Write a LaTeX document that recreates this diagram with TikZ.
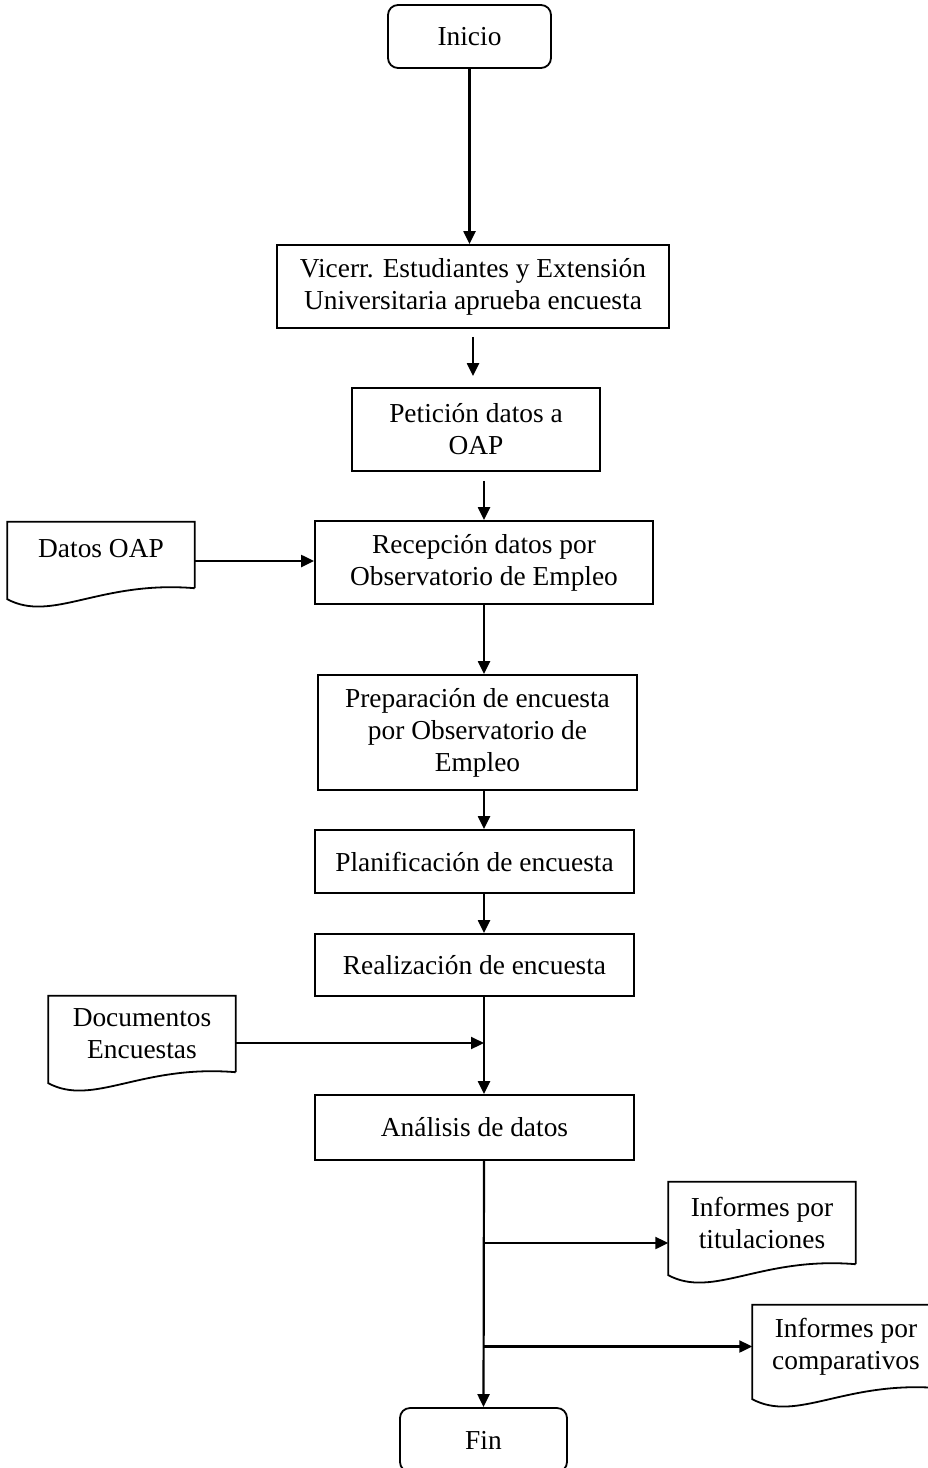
\documentclass[tikz,border=0pt]{standalone}
\usepackage{fontspec}
\setmainfont{Liberation Serif}
\usetikzlibrary{arrows.meta, positioning, calc}

\begin{document}
\begin{tikzpicture}[x=1pt, y=-1pt,
    txt/.style={font=\fontsize{27.4}{32}\selectfont, align=center, inner sep=0pt},
    proc/.style={txt, draw, line width=1.8pt},
    term/.style={proc, rounded corners=10pt},
    doc/.style={txt, minimum width=187, minimum height=82},
    flow/.style={line width=2.2pt, -{Triangle[length=13pt, width=12pt]}}]
\useasboundingbox (0,0) rectangle (928,1468);

% Main flow
\node[term, minimum width=163, minimum height=63] (inicio) at (469.5,36.5) {Inicio};
\node[proc, minimum width=392, minimum height=83] (aprueba) at (473,286.5)
    {Vicerr. Estudiantes y Extensión\\Universitaria aprueba encuesta};
\node[proc, minimum width=248, minimum height=83] (peticion) at (476,429.5)
    {Petición datos a\\OAP};
\node[proc, minimum width=338, minimum height=83] (recepcion) at (484,562.5)
    {Recepción datos por\\Observatorio de Empleo};
\node[proc, minimum width=319, minimum height=115] (preparacion) at (477.5,732.5)
    {Preparación de encuesta\\por Observatorio de\\Empleo};
\node[proc, minimum width=319, minimum height=63] (planificacion) at (474.5,861.5)
    {Planificación de encuesta};
\node[proc, minimum width=319, minimum height=62] (realizacion) at (474.5,965)
    {Realización de encuesta};
\node[proc, minimum width=319, minimum height=65] (analisis) at (474.5,1127.5)
    {Análisis de datos};
\node[term, minimum width=167, minimum height=64] (fin) at (483.5,1440) {Fin};

% Documents
\node[doc, minimum height=66, text depth=14pt] (datos) at (101,555) {Datos OAP};
\node[doc, minimum height=76] (docs) at (142,1034) {Documentos\\Encuestas};
\node[doc, minimum height=82] (inf1) at (762,1223) {Informes por\\titulaciones};
\node[doc, minimum height=83] (inf2) at (846,1346.5) {Informes por\\comparativos};
\foreach \n in {datos, docs, inf1, inf2}
    \draw[line width=1.8pt] (\n.south east) -- (\n.north east) -- (\n.north west)
        -- ($(\n.south west)+(0,11)$)
        .. controls ($(\n.south west)+(45,35)$) and ($(\n.south east)+(-95,-8)$) .. (\n.south east);

\coordinate (datos out) at ($(datos.east)+(0,6)$);
\coordinate (docs out) at ($(docs.east)+(0,9)$);
\coordinate (inf1 in) at ($(inf1.west)+(0,20)$);

% Connectors
\draw[flow] (inicio) -- (inicio |- aprueba.north);
\draw[flow, shorten <=8pt, shorten >=11pt] (aprueba) -- (aprueba |- peticion.north);
\draw[flow, shorten <=9pt] (peticion.south -| recepcion) -- (recepcion.north);
\draw[flow] (datos out) -- (datos out -| recepcion.west);
\draw[flow] (recepcion.south) -- (recepcion |- preparacion.north);
\draw[flow] (preparacion.south -| recepcion) -- (planificacion.north -| recepcion);
\draw[flow] (planificacion.south -| recepcion) -- (realizacion.north -| recepcion);
\draw[flow] (realizacion.south -| recepcion) -- (analisis.north -| recepcion);
\draw[flow] (docs out) -- (docs out -| recepcion);
\draw[flow] (analisis.south -| recepcion) -- (fin.north);
\draw[flow] (inf1 in -| recepcion) -- (inf1 in);
\draw[flow] (inf2.west -| recepcion) -- (inf2.west);
\end{tikzpicture}
\end{document}
